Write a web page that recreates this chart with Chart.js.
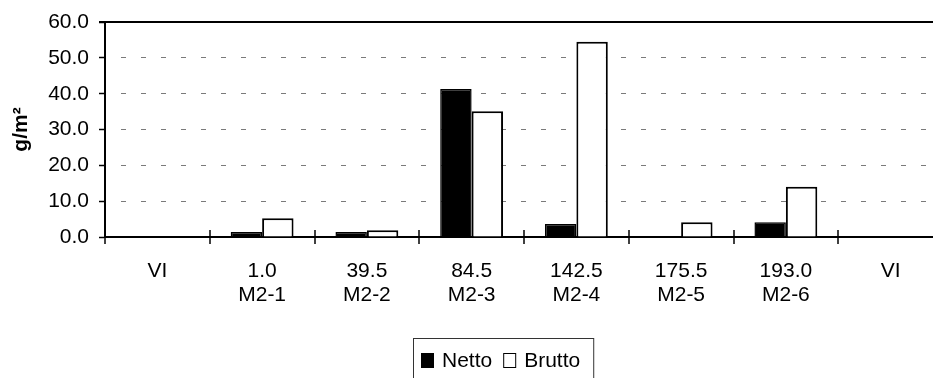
<!DOCTYPE html>
<html>
<head>
<meta charset="utf-8">
<script src="https://cdn.jsdelivr.net/npm/chart.js@4.4.1/dist/chart.umd.min.js"></script>
<style>
  html, body { margin: 0; padding: 0; background: #fff; overflow: hidden; }
  #wrap { width: 933px; height: 378px; overflow: hidden; }
</style>
</head>
<body>
<div id="wrap"><canvas id="chart" width="945" height="386"></canvas></div>
<script>
// stations along the transect, VI at both ends
const sites = ['VI', 'M2-1', 'M2-2', 'M2-3', 'M2-4', 'M2-5', 'M2-6', 'VI'];
const distances = ['', '1.0', '39.5', '84.5', '142.5', '175.5', '193.0', ''];
const netto = [null, 1.4, 1.4, 41.3, 3.6, 0, 4.1, null];
const brutto = [null, 5.2, 1.9, 35.1, 54.5, 4.1, 14.0, null];
const yMax = 60;
const yStep = 10;

const labels = sites.map((s, i) => distances[i] ? [distances[i], s] : [s, '']);

const FONT = 'Arial, "Liberation Sans", sans-serif';
Chart.defaults.font.family = FONT;
Chart.defaults.font.size = 21;
Chart.defaults.font.lineHeight = 1.15;
Chart.defaults.color = '#000';

// top frame line + category boundary ticks crossing the x axis
const frame = {
    id: 'frame',
    afterDatasetsDraw(chart) {
        const { ctx, chartArea } = chart;
        const x = chart.scales.x;
        ctx.save();
        ctx.strokeStyle = '#000';
        ctx.lineWidth = 2;
        ctx.beginPath();
        ctx.moveTo(chartArea.left - 6, chartArea.top);
        ctx.lineTo(chartArea.right, chartArea.top);
        ctx.stroke();
        ctx.lineWidth = 1.5;
        for (let i = 0; i <= labels.length; i++) {
            const px = Math.round(x.getPixelForValue(i - 0.5));
            ctx.beginPath();
            ctx.moveTo(px, chartArea.bottom - 7);
            ctx.lineTo(px, chartArea.bottom + 7);
            ctx.stroke();
        }
        ctx.restore();
    }
};

// boxed legend under the axis labels
const boxLegend = {
    id: 'boxLegend',
    afterDraw(chart) {
        const ctx = chart.ctx;
        const left = 413, top = 338;
        let x = left + 8;
        ctx.save();
        ctx.font = '21px ' + FONT;
        ctx.textBaseline = 'middle';
        chart.data.datasets.forEach(ds => {
            ctx.fillStyle = ds.backgroundColor;
            ctx.fillRect(x, top + 15, 13, 15);
            ctx.strokeStyle = '#000';
            ctx.lineWidth = 1;
            ctx.strokeRect(x + 0.5, top + 15.5, 12, 14);
            x += 21;
            ctx.fillStyle = '#000';
            ctx.fillText(ds.label, x, top + 23);
            x += ctx.measureText(ds.label).width + 11;
        });
        ctx.strokeStyle = '#333';
        ctx.lineWidth = 1;
        ctx.strokeRect(left + 0.5, top + 0.5, x - left + 2, 46);
        ctx.restore();
    }
};

new Chart(document.getElementById('chart'), {
    type: 'bar',
    data: {
        labels: labels,
        datasets: [{
            label: 'Netto',
            data: netto,
            backgroundColor: '#000',
            borderColor: '#000',
            borderWidth: 1.5
        }, {
            label: 'Brutto',
            data: brutto,
            backgroundColor: '#fff',
            borderColor: '#000',
            borderWidth: 2
        }]
    },
    options: {
        responsive: false,
        animation: false,
        layout: { padding: { top: 21, right: 2, left: 0, bottom: 0 } },
        categoryPercentage: 0.6,
        barPercentage: 1.0,
        plugins: {
            legend: { display: false },
            tooltip: { enabled: false }
        },
        scales: {
            x: {
                grid: { display: false },
                border: { color: '#000', width: 2 },
                ticks: { padding: 14, maxRotation: 0, autoSkip: false },
                afterFit: s => { s.height = 149; }
            },
            y: {
                min: 0,
                max: yMax,
                ticks: { stepSize: yStep, padding: 10, callback: v => v.toFixed(1) },
                grid: {
                    color: c => (c.tick.value > 0 && c.tick.value < yMax) ? '#7a7a7a' : 'rgba(0,0,0,0)',
                    lineWidth: 1,
                    tickColor: '#000',
                    tickLength: 6,
                    tickWidth: 1.5
                },
                border: { color: '#000', width: 2, dash: [5, 15], dashOffset: 5 },
                title: {
                    display: true,
                    text: 'g/m²',
                    font: { size: 21, weight: 'bold' },
                    padding: { top: 9, bottom: 0 }
                },
                afterFit: s => { s.width = 105; }
            }
        }
    },
    plugins: [frame, boxLegend]
});
</script>
</body>
</html>
